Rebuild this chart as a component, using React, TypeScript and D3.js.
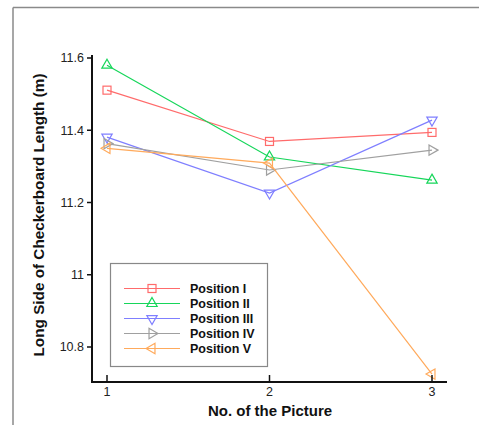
import React from "react";
import * as d3 from "d3";

const pictures = [1, 2, 3];
const seriesNames = ["Position I", "Position II", "Position III", "Position IV", "Position V"];
const posI = [11.511, 11.369, 11.394];
const posII = [11.58, 11.326, 11.262];
const posIII = [11.381, 11.226, 11.428];
const posIV = [11.363, 11.29, 11.345];
const posV = [11.35, 11.309, 10.725];
const yTicks = [10.8, 11, 11.2, 11.4, 11.6];
const yTickLabels = ["10.8", "11", "11.2", "11.4", "11.6"];
const colors = ["#ff6b6b", "#16d65a", "#7f7fff", "#a0a0a0", "#ffaa5c"];
const markers = ["square", "up", "down", "right", "left"];

const W = 479;
const H = 425;

function Marker({ type, x, y, color }: { type: string; x: number; y: number; color: string }) {
  if (type === "square") {
    return <rect x={x - 4} y={y - 4} width={8} height={8} fill="white" fillOpacity={0} stroke={color} strokeWidth={1.2} />;
  }
  const rot: Record<string, number> = { up: 0, down: 180, right: 90, left: 270 };
  const p = d3.symbol().type(d3.symbolTriangle).size(46)() as string;
  return (
    <path d={p} transform={`translate(${x},${y}) rotate(${rot[type]})`} fill="none" stroke={color} strokeWidth={1.2} />
  );
}

export default function App() {
  const data = [posI, posII, posIII, posIV, posV];
  const x = d3.scaleLinear().domain([1, 3]).range([107, 432]);
  const y = d3.scaleLinear().domain([10.8, 11.6]).range([347, 58]);
  const yTop = y(11.608);
  const yBot = 382;
  const xLeft = 92;
  const xRight = 447;
  const line = d3
    .line<number>()
    .x((_, i) => x(pictures[i]))
    .y((d) => y(d));
  const font = "'Liberation Sans', Arial, sans-serif";

  return (
    <svg
      width={W}
      height={H}
      style={{ position: "absolute", left: 0, top: 0, background: "white" }}
      fontFamily={font}
    >
      <rect x={0} y={0} width={W} height={H} fill="white" />
      {/* outer frame */}
      <line x1={13} y1={7.5} x2={W} y2={7.5} stroke="#8a8a8a" strokeWidth={1.5} />
      <line x1={13} y1={7.5} x2={13} y2={H} stroke="#8a8a8a" strokeWidth={1.5} />

      {/* series */}
      {data.map((s, si) => (
        <g key={si}>
          <path d={line(s) as string} fill="none" stroke={colors[si]} strokeWidth={1.2} />
          {s.map((v, i) => (
            <Marker key={i} type={markers[si]} x={x(pictures[i])} y={y(v)} color={colors[si]} />
          ))}
        </g>
      ))}

      {/* axes */}
      <line x1={xLeft} y1={yTop} x2={xLeft} y2={yBot} stroke="#111" strokeWidth={2} />
      <line x1={xLeft - 1} y1={yBot} x2={xRight} y2={yBot} stroke="#111" strokeWidth={2} />
      {yTicks.map((t, i) => (
        <g key={t}>
          <line x1={xLeft - 5} x2={xLeft} y1={y(t)} y2={y(t)} stroke="#111" strokeWidth={1.5} />
          <text x={xLeft - 8} y={y(t)} dy="0.35em" textAnchor="end" fontSize={12.5} fill="#222">
            {yTickLabels[i]}
          </text>
        </g>
      ))}
      {pictures.map((p) => (
        <g key={p}>
          <line x1={x(p)} x2={x(p)} y1={yBot - 7} y2={yBot} stroke="#111" strokeWidth={1.5} />
          <text x={x(p)} y={yBot + 10} dy="0.35em" textAnchor="middle" fontSize={12.5} fill="#222">
            {p}
          </text>
        </g>
      ))}

      {/* axis titles */}
      <text x={270} y={411} dy="0.35em" textAnchor="middle" fontSize={15} fontWeight="bold" fill="#111">
        No. of the Picture
      </text>
      <text
        transform={`translate(39,215) rotate(-90)`}
        dy="0.35em"
        textAnchor="middle"
        fontSize={15.3}
        fontWeight="bold"
        fill="#111"
      >
        Long Side of Checkerboard Length (m)
      </text>

      {/* legend */}
      <rect x={110.5} y={263.5} width={157} height={103} fill="white" stroke="#888" strokeWidth={1.2} />
      {seriesNames.map((n, i) => {
        const ly = 288.5 + i * 15;
        return (
          <g key={n}>
            <line x1={124} x2={180} y1={ly} y2={ly} stroke={colors[i]} strokeWidth={1.2} />
            <Marker type={markers[i]} x={152} y={ly} color={colors[i]} />
            <text x={190} y={ly} dy="0.35em" fontSize={12.5} fontWeight="bold" fill="#111">
              {n}
            </text>
          </g>
        );
      })}
    </svg>
  );
}
